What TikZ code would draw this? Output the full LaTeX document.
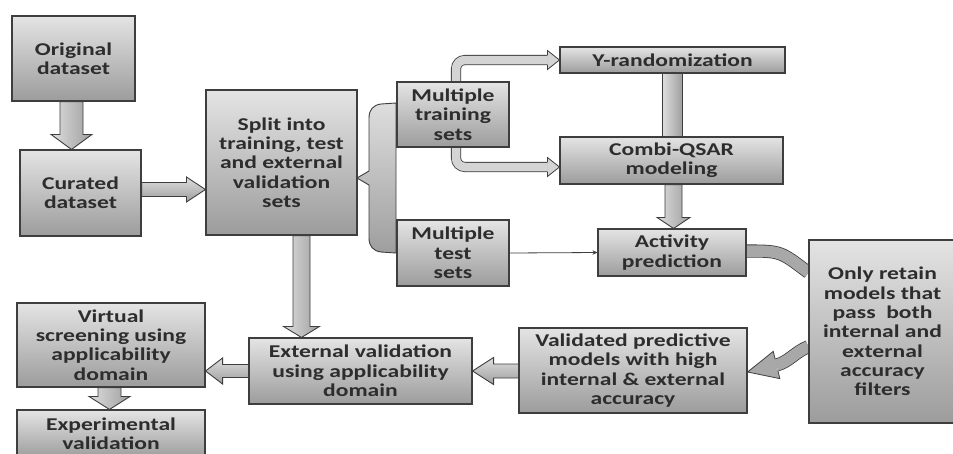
\documentclass[tikz,border=0pt]{standalone}
\usepackage{fontspec}
\newfontfamily\boxfont{Carlito}[FakeStretch=1.31]
\usetikzlibrary{calc,shadows,arrows.meta}
\pgfdeclarelayer{bg}
\pgfsetlayers{bg,main}
\definecolor{boxtop}{RGB}{228,228,228}
\definecolor{boxbot}{RGB}{156,156,156}
\definecolor{bdr}{RGB}{62,62,62}
\definecolor{txt}{RGB}{45,45,45}
\definecolor{arrtop}{RGB}{222,222,222}
\definecolor{arrbot}{RGB}{158,158,158}
\definecolor{arrlight}{RGB}{212,212,212}
\definecolor{arrmid}{RGB}{168,168,168}
\tikzset{
  box/.style={draw=bdr, line width=1.1pt, top color=boxtop, bottom color=boxbot,
    drop shadow={shadow xshift=1.2pt, shadow yshift=-1.2pt, opacity=0.3},
    align=center, text=txt, inner sep=0pt,
    font=\boxfont\bfseries\fontsize{18}{19.3}\selectfont},
  blockarrow/.style={draw=bdr, line width=0.9pt, top color=arrtop, bottom color=arrbot},
  vblockarrow/.style={draw=bdr, line width=0.9pt, left color=arrtop, right color=arrbot},
  bent/.style={draw=bdr, line width=0.8pt, double=arrlight, double distance=8.5pt},
  band/.style={draw=bdr, line width=0.8pt, double=arrmid, double distance=11.5pt},
  headlight/.style={draw=bdr, line width=0.8pt, fill=arrlight, line join=miter},
  headmid/.style={draw=bdr, line width=0.8pt, fill=arrmid, line join=miter},
  bracketst/.style={draw=bdr, line width=0.9pt, top color=arrtop, bottom color=arrbot},
  thinarrow/.style={draw=bdr, line width=0.8pt, -{Stealth[length=5pt,width=4.5pt]}}
}
\newcommand\blkdown[5]{\path[vblockarrow] let \p1=#1, \p2=#2 in
  (\x2-#3,\y1) -- (\x2-#3,\y2+#5) -- (\x2-#4,\y2+#5) -- (\x2,\y2) --
  (\x2+#4,\y2+#5) -- (\x2+#3,\y2+#5) -- (\x2+#3,\y1) -- cycle;}
\newcommand\blkright[5]{\path[blockarrow] let \p1=#1, \p2=#2 in
  (\x1,\y2+#3) -- (\x2-#5,\y2+#3) -- (\x2-#5,\y2+#4) -- (\x2,\y2) --
  (\x2-#5,\y2-#4) -- (\x2-#5,\y2-#3) -- (\x1,\y2-#3) -- cycle;}
\newcommand\blkleft[5]{\path[blockarrow] let \p1=#1, \p2=#2 in
  (\x1,\y2+#3) -- (\x2+#5,\y2+#3) -- (\x2+#5,\y2+#4) -- (\x2,\y2) --
  (\x2+#5,\y2-#4) -- (\x2+#5,\y2-#3) -- (\x1,\y2-#3) -- cycle;}
\begin{document}
\begin{tikzpicture}[x=1pt,y=-1pt]
\begin{pgfonlayer}{bg}
  \fill[white] (0,0) rectangle (953,453);
\end{pgfonlayer}
\useasboundingbox (0,0) rectangle (953,453);

% boxes
\node[box, minimum width=123pt, minimum height=85pt] (orig) at (73.5,58.5) {Original\\dataset};
\node[box, minimum width=121pt, minimum height=86pt] (cur) at (80.5,193) {Curated\\dataset};
\node[box, minimum width=151pt, minimum height=145pt] (split) at (281.5,162.5) {Split into\\training, test\\and external\\validation\\sets};
\node[box, minimum width=112pt, minimum height=65pt] (train) at (453,114.5) {Multiple\\training\\sets};
\node[box, minimum width=112pt, minimum height=66pt] (test) at (453,253) {Multiple\\test\\sets};
\node[box, minimum width=225pt, minimum height=26pt] (yrand) at (672.5,60) {Y-randomization};
\node[box, minimum width=223pt, minimum height=47pt] (combi) at (671.5,160.5) {Combi-QSAR\\modeling};
\node[box, minimum width=148pt, minimum height=47pt] (activity) at (672,252.5) {Activity\\prediction};
\node[box, minimum width=147pt, minimum height=183pt] (retain) at (882.5,331.5) {Only retain\\models that\\pass\ \ both\\internal and\\external\\accuracy\\filters};
\node[box, minimum width=228pt, minimum height=85pt] (valid) at (633,370.5) {Validated predictive\\models with high\\internal \& external\\accuracy};
\node[box, minimum width=223pt, minimum height=66pt] (ext) at (360.5,371) {External validation\\using applicability\\domain};
\node[box, minimum width=188pt, minimum height=84pt] (virtual) at (111,345) {Virtual\\screening using\\applicability\\domain};
\node[box, minimum width=188pt, minimum height=48pt] (exper) at (111,434) {Experimental\\validation};

\begin{pgfonlayer}{bg}
  % bracket from split to the two set boxes
  \path[bracketst] (396,103) -- (381,104) .. controls (373,105) and (369,110) .. (369,118)
    -- (369,171) -- (357,178) -- (369,185) -- (369,238)
    .. controls (369,246) and (373,251) .. (381,252) -- (396,253) -- cycle;

  % straight block arrows
  \blkdown{(orig.south)}{($(cur.north)+(-9,0)$)}{11.5pt}{20.5pt}{15pt}
  \blkright{(cur.east)}{($(split.west |- cur.east)+(0,-3.5)$)}{7pt}{12.5pt}{19pt}
  \coordinate (t1) at ($(split.south)+(20,0)$);
  \blkdown{(split.south)}{(t1 |- ext.north)}{8.5pt}{18pt}{11pt}
  \blkleft{(valid.west)}{(ext.east)}{7pt}{13.5pt}{21pt}
  \blkleft{(ext.west)}{(virtual.east |- ext.west)}{6.5pt}{13pt}{17pt}
  \blkdown{(virtual.south)}{($(exper.north)+(-1.5,0)$)}{11.5pt}{20.5pt}{13pt}
  \blkdown{(combi.south)}{($(activity.north)+(1.5,0)$)}{8.5pt}{16.5pt}{11pt}
  \path[vblockarrow] ($(yrand.south)+(-10,0)$) rectangle ($(combi.north)+(11,0)$);

  % bent arrows from the training sets
  \draw[bent, rounded corners=9pt] ($(train.north)+(3,0)$) |- ($(yrand.west)+(-12,0)$);
  \draw[bent, rounded corners=9pt] ($(train.south)+(3,0)$) |- ($(combi.west)+(-12,6.5)$);

  % curved band into the filter box
  \draw[band] ($(activity.east)+(0,-1.5)$) .. controls +(35,0) and +(-28,-21) .. ($(retain.west)+(0,-59)$);
  % curved arrow out of the filter box
  \draw[band] ($(retain.west)+(0,15)$) .. controls +(-14,6) and +(12,-3) .. ($(valid.east)+(29,-5.5)$);
\end{pgfonlayer}

% arrow heads of bent and curved arrows
\filldraw[headlight] ($(yrand.west)+(-12,-4.6)$) -- ($(yrand.west)+(-12,-9.5)$) -- (yrand.west)
  -- ($(yrand.west)+(-12,9.5)$) -- ($(yrand.west)+(-12,4.6)$);
\coordinate (cw) at ($(combi.west)+(0,6.5)$);
\filldraw[headlight] ($(cw)+(-12,-4.6)$) -- ($(cw)+(-12,-9.5)$) -- (cw)
  -- ($(cw)+(-12,9.5)$) -- ($(cw)+(-12,4.6)$);
\filldraw[headmid] ($(valid.east)+(27.55,-11.48)$) -- ($(valid.east)+(25.71,-19.12)$)
  -- ($(valid.east)+(0,1.5)$) -- ($(valid.east)+(32.29,8.12)$) -- ($(valid.east)+(30.45,0.48)$);

% thin connector
\draw[thinarrow] (test.east) -- (activity.west);
\end{tikzpicture}
\end{document}
